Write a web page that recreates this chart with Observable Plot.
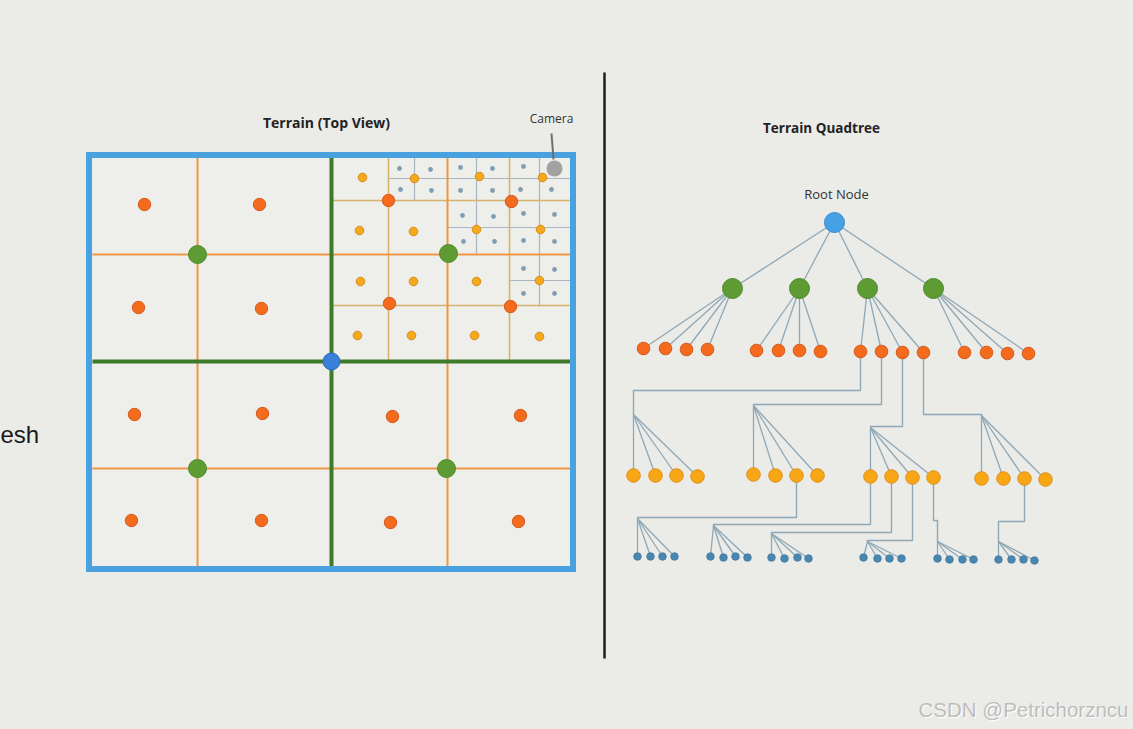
<!DOCTYPE html>
<html><head><meta charset="utf-8">
<script src="https://cdn.jsdelivr.net/npm/d3@7"></script>
<script src="https://cdn.jsdelivr.net/npm/@observablehq/plot@0.6"></script>
<style>html,body{margin:0;padding:0;background:#ebebe8;overflow:hidden} svg{display:block}</style>
</head><body><div id="chart"></div>
<script>
// ---------- Left: terrain top view (diagram coordinates) ----------
const terrainFrame = [{x1: 89, y1: 155, x2: 573, y2: 569}];
const level1Lines = [[331,157,331,567],[92,361,571,361]];
const level2Lines = [[197,157,197,567],[447,157,447,567],[92,254,571,254],[92,468,571,468]];
const level3Lines = [[388,157,388,361],[509,157,509,361],[331,200,571,200],[331,305,571,305]];
const level4Lines = [[414,157,414,200],[476,157,476,254],[539,157,539,306],[388,178,571,178],[447,227,571,227],[509,280,571,280]];

const rootCenter = [[331,361]];
const level1Centers = [[197,254],[448,253],[197,468],[446,468]];
const level2Centers = [[144,204],[259,204],[138,307],[261,308],[134,414],[262,413],[131,520],[261,520],
  [392,416],[520,415],[390,522],[518,521],[388,200],[511,201],[389,303],[510,306]];
const level3Centers = [[362,177],[414,178],[479,176],[542,177],[359,230],[413,231],[476,229],[540,229],
  [360,281],[413,281],[476,281],[539,280],[357,335],[411,335],[474,335],[539,336]];
const level4Centers = [[399,168],[430,169],[400,189],[431,190],[460,167],[492,168],[460,190],[492,190],
  [523,166],[520,189],[551,189],[462,215],[493,216],[463,241],[494,241],[523,213],[554,214],[523,240],[554,241],
  [523,268],[554,269],[523,293],[554,293]];
const cameraPos = [[554,168]];
const cameraPointer = [[551,133,553,159]];

// ---------- Right: terrain quadtree ----------
const treeRoot = [834,222];
const treeLevel1 = [[732,288],[799,288],[867,288],[933,288]];
const treeLevel2 = [ // [x, y, parentIndex]
  [643,348,0],[665,348,0],[686,349,0],[707,349,0],
  [756,350,1],[778,350,1],[799,350,1],[820,351,1],
  [860,351,2],[881,351,2],[902,352,2],[923,352,2],
  [964,352,3],[986,352,3],[1007,353,3],[1028,353,3]];
const treeLevel3Connectors = [
  [[860,351],[860,390],[633,390],[633,414]],
  [[881,351],[881,404],[753,404],[753,405]],
  [[902,352],[902,426],[870,426],[870,427]],
  [[923,352],[923,414],[981,414],[981,415]]];
const treeLevel3Groups = [
  [[633,475],[655,475],[676,475],[697,476]],
  [[753,474],[775,475],[796,475],[817,475]],
  [[870,476],[891,476],[912,477],[933,477]],
  [[981,478],[1003,478],[1024,478],[1045,479]]];
const treeLevel4Connectors = [
  [[796,475],[796,517],[637,517],[637,518]],
  [[870,476],[870,524],[713,524],[713,525]],
  [[891,476],[891,532],[771,532],[771,533]],
  [[912,477],[912,540],[867,540],[867,541]],
  [[933,477],[933,520],[937,520],[937,541]],
  [[1024,478],[1024,521],[998,521],[998,541]]];
const treeLevel4Groups = [
  [[637,556],[650,556],[662,556],[674,556]],
  [[710,556],[723,557],[735,556],[747,557]],
  [[771,557],[784,558],[797,557],[808,558]],
  [[863,557],[877,558],[889,558],[901,558]],
  [[937,558],[949,559],[962,559],[973,559]],
  [[998,559],[1011,559],[1023,559],[1034,560]]];
const divider = [[604,72,604,658]];

const labels = {
  leftTitle: {text: "Terrain (Top View)", x: 326, y: 123},
  camera: {text: "Camera", x: 551, y: 119},
  rightTitle: {text: "Terrain Quadtree", x: 821, y: 128},
  rootNode: {text: "Root Node", x: 836, y: 194},
  mesh: {text: "esh", x: 0, y: 435},
  watermark: {text: "CSDN @Petrichorzncu", x: 1128, y: 710}
};

// ---------- helpers ----------
const segs = a => a.map(([x1,y1,x2,y2]) => ({x1,y1,x2,y2}));
const pts = a => a.map(([x,y]) => ({x,y}));
const polyPts = arr => arr.flatMap((p, i) => p.map(([x,y]) => ({x, y, id: i})));
const fanLinks = (conns, groups) => conns.flatMap((c, i) => {
  const [bx, by] = c[c.length - 1];
  return groups[i].map(([x, y]) => ({x1: bx, y1: by, x2: x, y2: y}));
});
const rootLinks = treeLevel1.map(([x,y]) => ({x1: treeRoot[0], y1: treeRoot[1], x2: x, y2: y}));
const l2Links = treeLevel2.map(([x,y,p]) => ({x1: treeLevel1[p][0], y1: treeLevel1[p][1], x2: x, y2: y}));
const lab = k => [labels[k]];

const W = 1133, H = 729;
const LINK = "#8fa8b6";
const chart = Plot.plot({
  width: W, height: H,
  margin: 0, marginTop: 0, marginRight: 0, marginBottom: 0, marginLeft: 0,
  x: {domain: [0, W], range: [0, W], axis: null},
  y: {domain: [0, H], range: [0, H], axis: null},
  style: {background: "#ebebe8", fontFamily: "Open Sans, sans-serif"},
  marks: [
    Plot.rect(terrainFrame, {x1: "x1", y1: "y1", x2: "x2", y2: "y2", fill: "#eeeeeb"}),
    Plot.link(segs(level4Lines), {x1: "x1", y1: "y1", x2: "x2", y2: "y2", stroke: "#a9b6c0", strokeWidth: 1.2}),
    Plot.link(segs(level3Lines), {x1: "x1", y1: "y1", x2: "x2", y2: "y2", stroke: "#d6b36a", strokeWidth: 1.6}),
    Plot.link(segs(level2Lines), {x1: "x1", y1: "y1", x2: "x2", y2: "y2", stroke: "#ef9544", strokeWidth: 2}),
    Plot.link(segs(level1Lines), {x1: "x1", y1: "y1", x2: "x2", y2: "y2", stroke: "#3d7a2a", strokeWidth: 4}),
    Plot.rect(terrainFrame, {x1: "x1", y1: "y1", x2: "x2", y2: "y2", fill: "none", stroke: "#4aa1e0", strokeWidth: 6}),
    Plot.dot(pts(level4Centers), {x: "x", y: "y", r: 2.4, fill: "#7f9db3"}),
    Plot.dot(pts(level3Centers), {x: "x", y: "y", r: 4.3, fill: "#f5a91c", stroke: "#d68d1a", strokeWidth: 1}),
    Plot.dot(pts(level2Centers), {x: "x", y: "y", r: 6.2, fill: "#f46b1d", stroke: "#d35a1c", strokeWidth: 1}),
    Plot.dot(pts(level1Centers), {x: "x", y: "y", r: 9, fill: "#5e9b33", stroke: "#4c8a2a", strokeWidth: 1}),
    Plot.dot(pts(rootCenter), {x: "x", y: "y", r: 8.5, fill: "#3a7fd8", stroke: "#2e6cc0", strokeWidth: 1}),
    Plot.link(segs(cameraPointer), {x1: "x1", y1: "y1", x2: "x2", y2: "y2", stroke: "#6e6e6e", strokeWidth: 2}),
    Plot.dot(pts(cameraPos), {x: "x", y: "y", r: 8, fill: "#a2a2a2"}),
    Plot.link(segs(divider), {x1: "x1", y1: "y1", x2: "x2", y2: "y2", stroke: "#1e1e1e", strokeWidth: 2.5}),
    Plot.link(rootLinks, {x1: "x1", y1: "y1", x2: "x2", y2: "y2", stroke: LINK, strokeWidth: 1.3}),
    Plot.link(l2Links, {x1: "x1", y1: "y1", x2: "x2", y2: "y2", stroke: LINK, strokeWidth: 1.3}),
    Plot.line(polyPts(treeLevel3Connectors), {x: "x", y: "y", z: "id", stroke: LINK, strokeWidth: 1.4}),
    Plot.line(polyPts(treeLevel4Connectors), {x: "x", y: "y", z: "id", stroke: LINK, strokeWidth: 1.4}),
    Plot.link(fanLinks(treeLevel3Connectors, treeLevel3Groups), {x1: "x1", y1: "y1", x2: "x2", y2: "y2", stroke: LINK, strokeWidth: 1.3}),
    Plot.link(fanLinks(treeLevel4Connectors, treeLevel4Groups), {x1: "x1", y1: "y1", x2: "x2", y2: "y2", stroke: LINK, strokeWidth: 1.3}),
    Plot.dot(pts(treeLevel4Groups.flat()), {x: "x", y: "y", r: 3.8, fill: "#4a87b0", stroke: "#3f789f", strokeWidth: 0.8}),
    Plot.dot(pts(treeLevel3Groups.flat()), {x: "x", y: "y", r: 6.8, fill: "#f7a716", stroke: "#e0901a", strokeWidth: 1}),
    Plot.dot(pts(treeLevel2), {x: "x", y: "y", r: 6.3, fill: "#f46b1d", stroke: "#d35a1c", strokeWidth: 1}),
    Plot.dot(pts(treeLevel1), {x: "x", y: "y", r: 10, fill: "#5e9b33", stroke: "#4c8a2a", strokeWidth: 1}),
    Plot.dot([{x: treeRoot[0], y: treeRoot[1]}], {x: "x", y: "y", r: 10, fill: "#45a0e4", stroke: "#3a8ad0", strokeWidth: 1}),
    Plot.text(lab("leftTitle"), {x: "x", y: "y", text: "text", fontSize: 14, fontWeight: "bold", fill: "#222"}),
    Plot.text(lab("rightTitle"), {x: "x", y: "y", text: "text", fontSize: 13.5, fontWeight: "bold", fill: "#222"}),
    Plot.text(lab("camera"), {x: "x", y: "y", text: "text", fontSize: 12, fill: "#333"}),
    Plot.text(lab("rootNode"), {x: "x", y: "y", text: "text", fontSize: 13, fill: "#333"}),
    Plot.text(lab("mesh"), {x: "x", y: "y", text: "text", fontSize: 24, textAnchor: "start", fill: "#1a1a1a", fontFamily: "Liberation Sans, Arial, sans-serif"}),
    Plot.text(lab("watermark"), {x: "x", y: "y", dx: 1, dy: 1, text: "text", fontSize: 20.5, textAnchor: "end", fill: "#ffffff", fontFamily: "Liberation Sans, Arial, sans-serif"}),
    Plot.text(lab("watermark"), {x: "x", y: "y", text: "text", fontSize: 20.5, textAnchor: "end", fill: "#bdbdbd", fontFamily: "Liberation Sans, Arial, sans-serif"})
  ]
});
document.getElementById("chart").appendChild(chart);
</script></body></html>
